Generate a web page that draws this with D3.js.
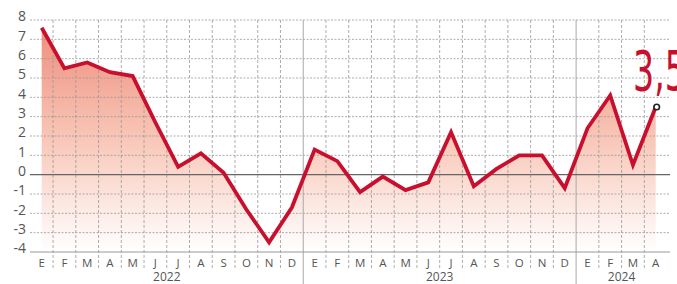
<!DOCTYPE html>
<html>
<head>
<meta charset="utf-8">
<script src="https://cdn.jsdelivr.net/npm/d3@7"></script>
<style>
  body { margin: 0; background: #fff; overflow: hidden; }
  svg { display: block; }
</style>
</head>
<body>
<div id="chart"></div>
<script>
const months = ['E','F','M','A','M','J','J','A','S','O','N','D',
                'E','F','M','A','M','J','J','A','S','O','N','D',
                'E','F','M','A'];
const values = [7.6, 5.5, 5.8, 5.3, 5.1, 2.7, 0.4, 1.1, 0.1, -1.8, -3.5, -1.7,
                1.3, 0.7, -0.9, -0.1, -0.8, -0.4, 2.2, -0.6, 0.3, 1.0, 1.0, -0.7,
                2.4, 4.1, 0.5, 3.5];
const years = [
  { label: '2022', start: 0, end: 11 },
  { label: '2023', start: 12, end: 23 },
  { label: '2024', start: 24, end: 27 }
];
const yTicks = [8, 7, 6, 5, 4, 3, 2, 1, 0, -1, -2, -3, -4];
const lastLabel = '3,5';

const W = 677, H = 284;

const svg = d3.select('#chart').append('svg')
  .attr('width', W).attr('height', H);

const x = d3.scaleLinear().domain([0, months.length - 1]).range([41.7, 655.7]);
const y = d3.scaleLinear().domain([-4, 8]).range([252, 20]);
const step = x(1) - x(0);

// gradient fill
const defs = svg.append('defs');
const grad = defs.append('linearGradient')
  .attr('id', 'areaGrad')
  .attr('gradientUnits', 'userSpaceOnUse')
  .attr('x1', 0).attr('x2', 0)
  .attr('y1', y(8)).attr('y2', y(-4));
grad.append('stop').attr('offset', '0%').attr('stop-color', '#ee8a78');
grad.append('stop').attr('offset', '55%').attr('stop-color', '#f9cbbd');
grad.append('stop').attr('offset', '100%').attr('stop-color', '#ffffff');

const data = values.map((v, i) => ({ i, v }));

// area
svg.append('path')
  .datum(data)
  .attr('fill', 'url(#areaGrad)')
  .attr('d', d3.area().x(d => x(d.i)).y0(y(-4)).y1(d => y(d.v)));

// horizontal grid
svg.selectAll('.hgrid')
  .data(yTicks.filter(t => t !== 0 && t !== -4))
  .enter().append('line')
  .attr('class', 'hgrid')
  .attr('x1', 30).attr('x2', 670)
  .attr('y1', d => y(d)).attr('y2', d => y(d))
  .attr('stroke', '#9a9a9a')
  .attr('stroke-width', 1)
  .attr('stroke-dasharray', '2,1.5')
  .attr('opacity', 0.8);

// vertical grid (month separators)
const seps = d3.range(months.length - 1).filter(i => months[i + 1] !== 'E');
svg.selectAll('.vgrid')
  .data(seps)
  .enter().append('line')
  .attr('class', 'vgrid')
  .attr('x1', d => x(d) + step / 2).attr('x2', d => x(d) + step / 2)
  .attr('y1', y(8)).attr('y2', 268)
  .attr('stroke', '#9a9a9a')
  .attr('stroke-width', 1)
  .attr('stroke-dasharray', '3,2')
  .attr('opacity', 0.8);

// year separators
svg.selectAll('.ysep')
  .data(years.slice(1))
  .enter().append('line')
  .attr('class', 'ysep')
  .attr('x1', d => x(d.start) - step / 2).attr('x2', d => x(d.start) - step / 2)
  .attr('y1', y(8)).attr('y2', H)
  .attr('stroke', '#a8a8a8')
  .attr('stroke-width', 1);

// zero and bottom lines
svg.append('line')
  .attr('x1', 30).attr('x2', 670)
  .attr('y1', y(0)).attr('y2', y(0))
  .attr('stroke', '#666').attr('stroke-width', 1.2);
svg.append('line')
  .attr('x1', 30).attr('x2', 670)
  .attr('y1', y(-4)).attr('y2', y(-4))
  .attr('stroke', '#9a9a9a').attr('stroke-width', 1.2);

// y labels
svg.selectAll('.ylab')
  .data(yTicks)
  .enter().append('text')
  .attr('class', 'ylab')
  .attr('x', 26)
  .attr('y', d => y(d))
  .attr('dy', '0.1em')
  .attr('text-anchor', 'end')
  .attr('font-family', 'Open Sans, sans-serif')
  .attr('font-size', 14)
  .attr('fill', '#555')
  .text(d => d);

// month labels
svg.selectAll('.mlab')
  .data(months)
  .enter().append('text')
  .attr('class', 'mlab')
  .attr('x', (d, i) => x(i))
  .attr('y', 267)
  .attr('text-anchor', 'middle')
  .attr('font-family', 'Open Sans, sans-serif')
  .attr('font-size', 11.5)
  .attr('fill', '#555')
  .text(d => d);

// year labels
svg.selectAll('.yrlab')
  .data(years)
  .enter().append('text')
  .attr('class', 'yrlab')
  .attr('x', d => (x(d.start) + x(d.end)) / 2)
  .attr('y', 281)
  .attr('text-anchor', 'middle')
  .attr('font-family', 'Open Sans, sans-serif')
  .attr('font-size', 12)
  .attr('fill', '#555')
  .text(d => d.label);

// line
svg.append('path')
  .datum(data)
  .attr('fill', 'none')
  .attr('stroke', '#c8102e')
  .attr('stroke-width', 3.8)
  .attr('stroke-linejoin', 'miter')
  .attr('d', d3.line().x(d => x(d.i)).y(d => y(d.v)));

// last point marker
const last = data[data.length - 1];
svg.append('circle')
  .attr('cx', x(last.i) + 1)
  .attr('cy', y(last.v))
  .attr('r', 2.8)
  .attr('fill', '#fff')
  .attr('stroke', '#222')
  .attr('stroke-width', 1.6);

// big value label
svg.append('text')
  .attr('x', 0)
  .attr('y', 0)
  .attr('font-family', 'Liberation Sans Narrow, DejaVu Sans Condensed, sans-serif')
  .attr('font-size', 56)
  .attr('fill', '#c8102e')
  .attr('transform', 'translate(633,90) scale(0.66,1)')
  .text(lastLabel);
</script>
</body>
</html>
